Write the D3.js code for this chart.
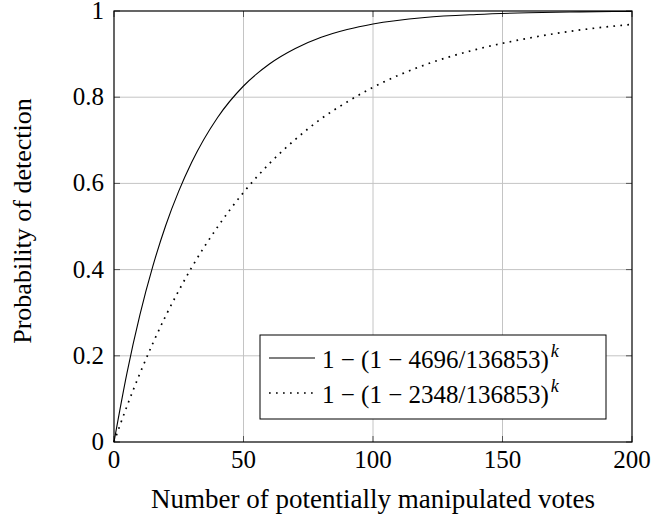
<!DOCTYPE html>
<html>
<head>
<meta charset="utf-8">
<script src="https://cdn.jsdelivr.net/npm/d3@7"></script>
</head>
<body style="margin:0">
<svg id="chart" width="652" height="517"></svg>
<script>
// values
const votes = [0, 5, 10, 15, 20, 25, 30, 40, 50, 60, 70, 80, 90, 100, 120, 140, 160, 180, 200];
const probHigh = [0, 0.160, 0.295, 0.408, 0.503, 0.582, 0.649, 0.753, 0.826, 0.877, 0.913, 0.939, 0.957, 0.970, 0.985, 0.992, 0.996, 0.998, 0.999];
const probLow = [0, 0.083, 0.159, 0.229, 0.293, 0.351, 0.405, 0.499, 0.579, 0.646, 0.702, 0.750, 0.789, 0.823, 0.875, 0.911, 0.937, 0.956, 0.969];
const xTicks = [0, 50, 100, 150, 200];
const yTicks = [0, 0.2, 0.4, 0.6, 0.8, 1];
const legendNames = ["4696/136853", "2348/136853"];

const fontName = "Liberation Serif";
const width = 652, height = 517;
const margin = { top: 11, right: 20, bottom: 75, left: 114 };
const innerWidth = width - margin.left - margin.right;
const innerHeight = height - margin.top - margin.bottom;

const svg = d3.select("#chart");

const chart = svg.append("g")
    .attr("transform", `translate(${margin.left},${margin.top})`);

const x = d3.scaleLinear().domain([0, 200]).range([0, innerWidth]);
const y = d3.scaleLinear().domain([0, 1]).range([innerHeight, 0]);

// grid
chart.append("g")
    .selectAll("line")
    .data(xTicks.slice(1, -1))
    .enter().append("line")
    .attr("x1", d => x(d)).attr("x2", d => x(d))
    .attr("y1", 0).attr("y2", innerHeight)
    .attr("stroke", "#c4c4c4").attr("stroke-width", 1);

chart.append("g")
    .selectAll("line")
    .data(yTicks.slice(1, -1))
    .enter().append("line")
    .attr("y1", d => y(d)).attr("y2", d => y(d))
    .attr("x1", 0).attr("x2", innerWidth)
    .attr("stroke", "#c4c4c4").attr("stroke-width", 1);

// tick marks pointing inward on all four sides
const tickLen = 6;
const ticks = chart.append("g").attr("stroke", "#555").attr("stroke-width", 1);
xTicks.forEach(d => {
    ticks.append("line").attr("x1", x(d)).attr("x2", x(d)).attr("y1", innerHeight).attr("y2", innerHeight - tickLen);
    ticks.append("line").attr("x1", x(d)).attr("x2", x(d)).attr("y1", 0).attr("y2", tickLen);
});
yTicks.forEach(d => {
    ticks.append("line").attr("y1", y(d)).attr("y2", y(d)).attr("x1", 0).attr("x2", tickLen);
    ticks.append("line").attr("y1", y(d)).attr("y2", y(d)).attr("x1", innerWidth).attr("x2", innerWidth - tickLen);
});

// tick labels
xTicks.forEach(d => {
    chart.append("text")
        .attr("x", x(d))
        .attr("y", innerHeight + 26)
        .attr("text-anchor", "middle")
        .attr("font-family", fontName)
        .attr("font-size", 25)
        .attr("fill", "#000")
        .text(d);
});

yTicks.forEach(d => {
    chart.append("text")
        .attr("x", -10)
        .attr("y", y(d) + 8)
        .attr("text-anchor", "end")
        .attr("font-family", fontName)
        .attr("font-size", 25)
        .attr("fill", "#000")
        .text(d === 0 || d === 1 ? d3.format("d")(d) : d3.format(".1f")(d));
});

// frame
chart.append("rect")
    .attr("width", innerWidth).attr("height", innerHeight)
    .attr("fill", "none").attr("stroke", "#000").attr("stroke-width", 1.2);

// curves
const line = d3.line().curve(d3.curveMonotoneX);
const seriesHigh = votes.map((v, i) => [x(v), y(probHigh[i])]);
const seriesLow = votes.map((v, i) => [x(v), y(probLow[i])]);

chart.append("path")
    .attr("d", line(seriesHigh))
    .attr("fill", "none").attr("stroke", "#000").attr("stroke-width", 1.1);

chart.append("path")
    .attr("d", line(seriesLow))
    .attr("fill", "none").attr("stroke", "#000").attr("stroke-width", 1.7)
    .attr("stroke-dasharray", "1.7 5.3");

// legend
const legend = svg.append("g").attr("transform", "translate(260,335)");
legend.append("rect")
    .attr("width", 346).attr("height", 84)
    .attr("fill", "#fff").attr("stroke", "#000").attr("stroke-width", 1);

legendNames.forEach((name, i) => {
    const base = 33 + i * 35;
    legend.append("line")
        .attr("x1", 9).attr("x2", 55).attr("y1", base - 10).attr("y2", base - 10)
        .attr("stroke", "#000")
        .attr("stroke-width", i === 0 ? 1.1 : 1.7)
        .attr("stroke-dasharray", i === 0 ? null : "1.7 5.3");
    const t = legend.append("text")
        .attr("x", 62).attr("y", base)
        .attr("font-family", fontName)
        .attr("font-size", 25)
        .attr("fill", "#000")
        .text(`1 \u2212 (1 \u2212 ${name})`);
    // place k right after the measured end of the formula
    const w = t.node().getComputedTextLength();
    legend.append("text")
        .attr("x", 62 + w + 2).attr("y", base - 11)
        .attr("font-family", fontName)
        .attr("font-size", 18)
        .attr("font-style", "italic")
        .attr("fill", "#000")
        .text("k");
});

// axis titles
svg.append("text")
    .attr("x", margin.left + innerWidth / 2)
    .attr("y", 508)
    .attr("text-anchor", "middle")
    .attr("font-family", fontName)
    .attr("font-size", 27)
    .text("Number of potentially manipulated votes");

svg.append("text")
    .attr("transform", "translate(31,221) rotate(-90)")
    .attr("text-anchor", "middle")
    .attr("font-family", fontName)
    .attr("font-size", 26)
    .text("Probability of detection");
</script>
</body>
</html>
